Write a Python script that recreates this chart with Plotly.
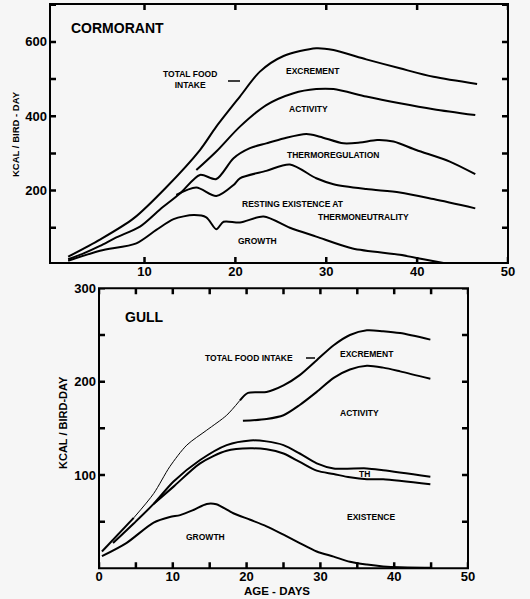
import plotly.graph_objects as go

W, H = 530, 599

# ---------------- Cormorant data (age in days, kcal/bird-day) ----------------
corm_food_x = [1.6, 5.1, 8.8, 12.4, 16.1, 17.9, 20.5, 22.7, 25.3, 28.9, 30.8, 34.4, 38.1, 41.8, 46.6]
corm_food_y = [22, 68, 125, 209, 309, 372, 453, 520, 562, 583, 578, 553, 529, 506, 487]

corm_act_x = [15.7, 17.9, 20.5, 23.4, 26.4, 28.9, 30.8, 34.4, 38.1, 41.8, 46.4]
corm_act_y = [255, 305, 372, 430, 462, 473, 473, 453, 435, 419, 403]

corm_thermo_x = [1.6, 3.3, 5.1, 6.9, 9.5, 11.7, 13.9, 16.1, 17.9, 19.8, 21.6, 23.4, 25.3, 27.8, 29.3, 31.9, 33.7, 35.6, 37.4, 39.9, 43.6, 46.4]
corm_thermo_y = [15, 31, 51, 74, 103, 149, 192, 242, 231, 287, 314, 327, 340, 352, 345, 327, 329, 336, 332, 309, 278, 244]

corm_exist_x = [13.5, 15.7, 17.9, 19.8, 20.5, 23.4, 26.0, 28.9, 30.8, 34.4, 38.1, 41.8, 46.4]
corm_exist_y = [188, 208, 185, 215, 233, 253, 270, 233, 217, 204, 195, 177, 152]

corm_growth_x = [1.6, 5.1, 9.1, 11.3, 13.2, 15.4, 16.8, 17.9, 18.7, 20.5, 23.1, 26.0, 28.9, 32.9, 38.1, 40.7, 42.9]
corm_growth_y = [11, 38, 58, 94, 123, 134, 128, 96, 116, 114, 130, 100, 76, 44, 27, 15, 5]

# ---------------- Gull data ----------------
gull_food_x = [0.4, 4.7, 7.4, 9.6, 11.9, 14.6, 17.3, 19.1, 20.2, 22.7, 25.0, 27.2, 29.5, 31.8, 34.0, 36.3, 38.5, 40.8, 44.9]
gull_food_y = [18, 54, 80, 109, 132, 148, 164, 180, 188, 189, 196, 207, 223, 239, 250, 255, 254, 252, 245]
gull_food_thin_from, gull_food_thin_to = 4.7, 19.1

gull_act_x = [19.5, 22.7, 25.0, 27.2, 29.5, 31.8, 34.0, 36.3, 38.5, 40.8, 44.9]
gull_act_y = [158, 160, 164, 175, 189, 204, 213, 217, 215, 211, 203]

gull_thermo_x = [1.9, 4.7, 7.4, 10.1, 13.7, 17.3, 20.5, 22.7, 25.0, 27.2, 29.5, 31.8, 36.3, 38.5, 44.9]
gull_thermo_y = [27, 48, 69, 93, 116, 132, 137, 136, 132, 123, 112.5, 107, 107, 105, 98]

gull_exist_x = [7.4, 10.1, 13.7, 17.3, 20.5, 22.7, 25.0, 27.2, 29.5, 31.8, 34.0, 36.3, 38.5, 44.9]
gull_exist_y = [69, 87.5, 112.5, 126, 128.5, 127.5, 123, 114, 104.6, 101, 97.5, 95.4, 95.4, 90]

gull_growth_x = [0.4, 3.7, 7.4, 9.6, 11.0, 12.8, 14.6, 15.9, 18.2, 20.5, 22.7, 25.0, 27.2, 29.5, 31.8, 34.0, 36.3, 38.5, 40.8, 44.9]
gull_growth_y = [13, 27, 49, 55, 57, 62.5, 69, 68.6, 59, 52, 45, 36, 27, 18, 12.5, 7, 4, 2, 1, 0.5]

# tick labels
corm_xticks = [10, 20, 30, 40, 50]
corm_yticks = [100, 200, 300, 400, 500, 600, 700]
corm_ytext = ["", "200", "", "400", "", "600", ""]
gull_xticks = [0, 5, 10, 15, 20, 25, 30, 35, 40, 45, 50]
gull_xtext = ["0", "", "10", "", "20", "", "30", "", "40", "", "50"]
gull_yticks = [50, 100, 150, 200, 250, 300]
gull_ytext = ["", "100", "", "200", "", "300"]


def px(x):
    return x / W


def py(y):
    return 1 - y / H


BG = "#f6f6f6"
LW = 2
fig = go.Figure()


def line(x, y, xa, ya, width=LW, shape="spline"):
    fig.add_trace(go.Scatter(x=x, y=y, xaxis=xa, yaxis=ya, mode="lines",
                             line=dict(color="black", width=width, shape=shape, smoothing=0.8),
                             showlegend=False, hoverinfo="skip"))


for xs, ys in [(corm_food_x, corm_food_y), (corm_act_x, corm_act_y), (corm_thermo_x, corm_thermo_y),
               (corm_exist_x, corm_exist_y), (corm_growth_x, corm_growth_y)]:
    line(xs, ys, "x", "y")

# gull total food intake: thick, thin (faint) middle section, thick
i0 = gull_food_x.index(gull_food_thin_from)
i1 = gull_food_x.index(gull_food_thin_to)
line(gull_food_x[:i0 + 1], gull_food_y[:i0 + 1], "x2", "y2")
line(gull_food_x[i0:i1 + 1], gull_food_y[i0:i1 + 1], "x2", "y2", width=1)
line(gull_food_x[i1:], gull_food_y[i1:], "x2", "y2")
for xs, ys in [(gull_act_x, gull_act_y), (gull_thermo_x, gull_thermo_y),
               (gull_exist_x, gull_exist_y), (gull_growth_x, gull_growth_y)]:
    line(xs, ys, "x2", "y2")

tickfont = dict(family="Liberation Sans", size=13, color="black", weight="bold")
axcommon = dict(showgrid=False, zeroline=False, showline=False,
                ticks="", tickfont=tickfont, fixedrange=True)

# panel geometry in pixels: (left, right, top, bottom)
corm_box = (50, 508, 4, 263)
gull_box = (99, 468, 288.3, 568.3)
corm_xrange, corm_yrange = [-0.4, 50], [5, 702]
gull_xrange, gull_yrange = [0, 50], [0, 300]

fig.update_layout(
    width=W, height=H, margin=dict(l=0, r=0, t=0, b=0, autoexpand=False),
    paper_bgcolor=BG, plot_bgcolor=BG,
    xaxis=dict(domain=[px(corm_box[0]), px(corm_box[1])], range=corm_xrange, tickmode="array",
               tickvals=corm_xticks, anchor="y", ticklabelstandoff=-1, **axcommon),
    yaxis=dict(domain=[py(corm_box[3]), py(corm_box[2])], range=corm_yrange, tickmode="array",
               tickvals=corm_yticks, ticktext=corm_ytext, anchor="x", ticklabelstandoff=2, **axcommon),
    xaxis2=dict(domain=[px(gull_box[0]), px(gull_box[1])], range=gull_xrange, tickmode="array",
                tickvals=gull_xticks, ticktext=gull_xtext, anchor="y2", ticklabelstandoff=-1, **axcommon),
    yaxis2=dict(domain=[py(gull_box[3]), py(gull_box[2])], range=gull_yrange, tickmode="array",
                tickvals=gull_yticks, ticktext=gull_ytext, anchor="x2", ticklabelstandoff=2, **axcommon),
)

# panel frames (rect shapes) and inside tick marks (separate line shapes, axis units)
TL = 6  # tick length in px
for (xa, ya, box, xr, yr, xt, yt) in [("x", "y", corm_box, corm_xrange, corm_yrange, corm_xticks, corm_yticks),
                                      ("x2", "y2", gull_box, gull_xrange, gull_yrange, gull_xticks, gull_yticks)]:
    fig.add_shape(type="rect", xref=xa + " domain", yref=ya + " domain", x0=0, x1=1, y0=0, y1=1,
                  line=dict(color="black", width=2), fillcolor="rgba(0,0,0,0)", layer="above")
    dx = TL * (xr[1] - xr[0]) / (box[1] - box[0])
    dy = TL * (yr[1] - yr[0]) / (box[3] - box[2])
    p = ""
    for t in xt:
        p += "M{0},{1}L{0},{2}M{0},{3}L{0},{4}".format(t, yr[0], yr[0] + dy, yr[1], yr[1] - dy)
    for t in yt:
        p += "M{1},{0}L{2},{0}M{3},{0}L{4},{0}".format(t, xr[0], xr[0] + dx, xr[1], xr[1] - dx)
    fig.add_shape(type="path", xref=xa, yref=ya, path=p,
                  line=dict(color="black", width=2.5), layer="above")

LF = "Liberation Sans"


def label(text, x, y, size=8.5, angle=0):
    fig.add_annotation(text=text, x=px(x), y=py(y), xref="paper", yref="paper",
                       showarrow=False, textangle=angle, xanchor="center", yanchor="middle",
                       font=dict(family=LF, size=size, color="black", weight="bold"))


# Cormorant panel labels
label("CORMORANT", 117, 28, size=14)
label("TOTAL FOOD<br>INTAKE", 190, 79)
label("EXCREMENT", 313, 71)
label("ACTIVITY", 308, 109)
label("THERMOREGULATION", 333, 155)
label("RESTING EXISTENCE AT", 293, 204)
label("THERMONEUTRALITY", 363, 217)
label("GROWTH", 257, 241)
label("KCAL / BIRD - DAY", 15, 134, size=9.5, angle=-90)
fig.add_shape(type="line", xref="paper", yref="paper", x0=px(228), x1=px(240), y0=py(81), y1=py(81),
              line=dict(color="black", width=1.5))

# Gull panel labels
label("GULL", 144, 317, size=14)
label("TOTAL FOOD INTAKE", 249, 358)
fig.add_shape(type="line", xref="paper", yref="paper", x0=px(306), x1=px(315), y0=py(358), y1=py(358),
              line=dict(color="black", width=1.5))
label("EXCREMENT", 367, 354)
label("ACTIVITY", 359, 413)
label("TH", 364, 474)
label("EXISTENCE", 371, 517)
label("GROWTH", 205, 537)
label("KCAL / BIRD-DAY", 63, 423, size=11, angle=-90)
label("AGE - DAYS", 277, 591, size=11.5)

fig.write_html("out.html", config={"displayModeBar": False},
               post_script="document.body.style.margin='0';document.body.style.overflow='hidden';")
